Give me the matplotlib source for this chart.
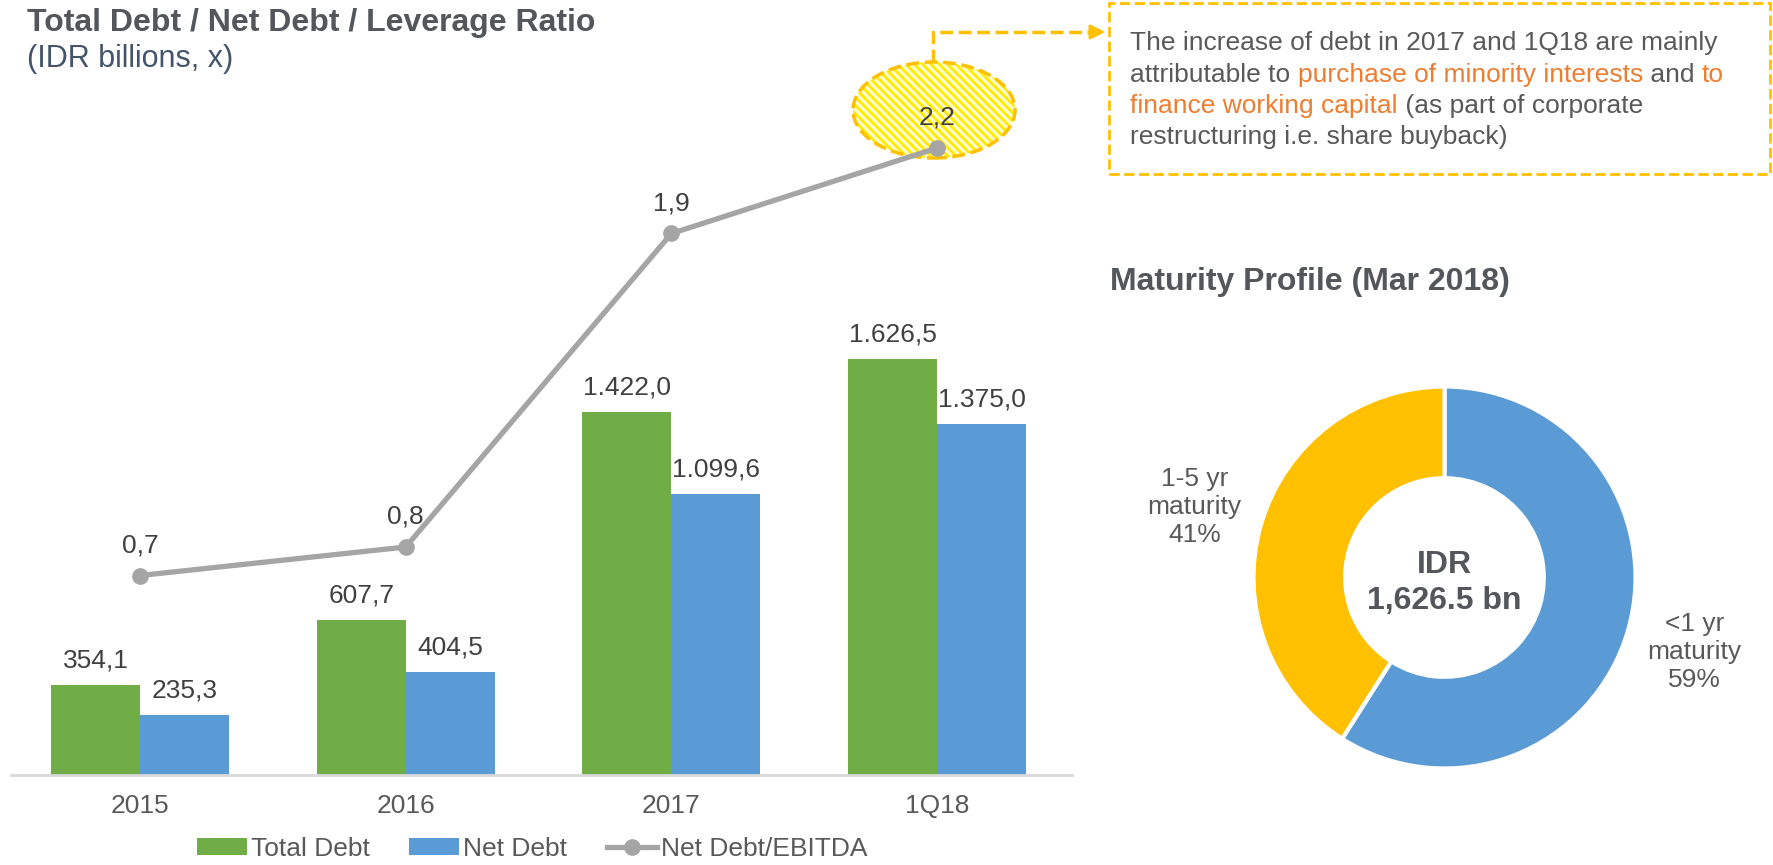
import matplotlib
matplotlib.use("Agg")
import matplotlib.pyplot as plt
from matplotlib.patches import Ellipse, Rectangle
from matplotlib.lines import Line2D
import numpy as np

plt.rcParams['font.family'] = ['Liberation Sans', 'DejaVu Sans']
plt.rcParams['hatch.linewidth'] = 2.0

# Data
categories = ['2015', '2016', '2017', '1Q18']
total_debt = [354.1, 607.7, 1422.0, 1626.5]
net_debt = [235.3, 404.5, 1099.6, 1375.0]
leverage = [0.7, 0.8, 1.9, 2.2]

maturity_names = ['<1 yr\nmaturity', '1-5 yr\nmaturity']
maturity_pct = [59, 41]

# Colours
GREEN = '#70AD47'
BLUE = '#5B9BD5'
GREY = '#A5A5A5'
GOLD = '#FFC000'
ORANGE = '#ED7D31'
TXT = '#595959'
TITLE = '#53565A'

W, H = 1773, 865


def fx(px):
    return px / W


def fy(py):
    return 1 - py / H


def eu(v):
    # 1626.5 -> 1.626,5
    return f"{v:,.1f}".replace(",", "X").replace(".", ",").replace("X", ".")


fig = plt.figure(figsize=(W / 100, H / 100), dpi=100)

# --- bar + line chart ---
ax = fig.add_axes([fx(11), fy(775), fx(1072 - 11), (775 - 100) / H])
x = np.arange(len(categories))
bw = 0.335
b1 = ax.bar(x - bw / 2, total_debt, bw, color=GREEN, label='Total Debt')
b2 = ax.bar(x + bw / 2, net_debt, bw, color=BLUE, label='Net Debt')
for bars, vals in [(b1, total_debt), (b2, net_debt)]:
    for r, v in zip(bars, vals):
        ax.annotate(eu(v), (r.get_x() + r.get_width() / 2, v), xytext=(0, 9),
                    textcoords='offset points', ha='center', va='bottom',
                    fontsize=19, color='#404040')

ax.set_xlim(-0.486, 3.508)
ax.set_ylim(0, 675 / 0.2555)
ax.set_xticks(x, categories)
ax.set_yticks([])
for s in ['top', 'left', 'right']:
    ax.spines[s].set_visible(False)
ax.spines['bottom'].set_color('#D9D9D9')
ax.spines['bottom'].set_linewidth(2)
ax.tick_params(axis='x', length=0, labelsize=19, labelcolor=TXT, pad=14)

# highlight ellipse behind the 2,2 point
ex, ey, ew, eh = 934, 110, 162, 96
ax.add_patch(Ellipse((fx(ex), fy(ey)), ew / W, eh / H, transform=fig.transFigure,
                     facecolor='#FFFDD0', edgecolor='#FFEA00', hatch='\\\\\\\\',
                     lw=0, clip_on=False, zorder=1))
ax.add_patch(Ellipse((fx(ex), fy(ey)), ew / W, eh / H, transform=fig.transFigure,
                     fill=False, edgecolor=GOLD, ls='--', lw=2.5,
                     clip_on=False, zorder=2))

ax2 = ax.twinx()
ln, = ax2.plot(x, leverage, color=GREY, lw=3.8, marker='o', ms=11,
               label='Net Debt/EBITDA', zorder=3)
for xi, v in zip(x, leverage):
    ax2.annotate(f"{v:.1f}".replace(".", ","), (xi, v), xytext=(0, 13),
                 textcoords='offset points', ha='center', va='bottom',
                 fontsize=19, color='#404040')
ax2.set_ylim(0, 675 / 285)
ax2.set_yticks([])
for s in ax2.spines.values():
    s.set_visible(False)

# titles
fig.text(fx(27), fy(31), 'Total Debt / Net Debt / Leverage Ratio', fontsize=23,
         fontweight='bold', color=TITLE, va='baseline')
fig.text(fx(27), fy(67), '(IDR billions, x)', fontsize=22, color='#44546A',
         va='baseline')
fig.text(fx(1110), fy(290), 'Maturity Profile (Mar 2018)', fontsize=23,
         fontweight='bold', color=TITLE, va='baseline')

# legend
fig.legend(handles=[b1, b2, ln], loc='center', bbox_to_anchor=(fx(532), fy(849)),
           ncol=3, frameon=False, fontsize=19, labelcolor=TXT,
           handlelength=1.9, handleheight=0.6, handletextpad=0.15,
           columnspacing=1.5)

# --- annotation box ---
fig.add_artist(Rectangle((fx(1109), fy(174)), (1770 - 1109) / W, (174 - 3) / H,
                         transform=fig.transFigure, fill=False, edgecolor=GOLD,
                         ls='--', lw=2))
fig.add_artist(Line2D([fx(933), fx(933), fx(1095)], [fy(62), fy(32), fy(32)],
                      transform=fig.transFigure, color=GOLD, ls='--', lw=2.5))
ax.annotate('', xy=(fx(1108), fy(32)), xytext=(fx(1090), fy(32)),
            xycoords='figure fraction', textcoords='figure fraction',
            arrowprops=dict(arrowstyle='-|>', color=GOLD, lw=2,
                            mutation_scale=22))

box_lines = [
    [("The increase of debt in 2017 and 1Q18 are mainly", TXT)],
    [("attributable to ", TXT), ("purchase of minority interests", ORANGE),
     (" and ", TXT), ("to", ORANGE)],
    [("finance working capital", ORANGE), (" (as part of corporate", TXT)],
    [("restructuring i.e. share buyback)", TXT)],
]
line_y = [43, 75, 106, 137]
for segs, py in zip(box_lines, line_y):
    prev = None
    for txt, col in segs:
        if prev is None:
            prev = fig.text(fx(1130), fy(py), txt, fontsize=19, color=col,
                            va='center')
        else:
            prev = ax.annotate(txt, xy=(1, 0.5), xycoords=prev, va='center',
                               ha='left', fontsize=19, color=col,
                               annotation_clip=False)

# --- donut ---
cx, cy, rad = 1444.5, 577.5, 191
ax3 = fig.add_axes([fx(cx - rad), fy(cy + rad), 2 * rad / W, 2 * rad / H])
wedges, _ = ax3.pie(maturity_pct, colors=[BLUE, GOLD], startangle=90,
                    counterclock=False, radius=1,
                    wedgeprops=dict(width=0.48, edgecolor='white', linewidth=3))
ax3.set_xlim(-1, 1)
ax3.set_ylim(-1, 1)
ax3.text(0, -0.03, f"IDR\n{total_debt[-1]:,.1f} bn", ha='center', va='center',
         fontsize=23, fontweight='bold', color=TITLE, linespacing=1.25)
label_pos = [(1.31, -0.39), (-1.31, 0.37)]
for name, pct, (lx, ly) in zip(maturity_names, maturity_pct, label_pos):
    ax3.text(lx, ly, f"{name}\n{pct}%", ha='center', va='center', fontsize=19,
             color=TXT, linespacing=1.2)

fig.savefig('out.png', dpi=100, facecolor='white')
